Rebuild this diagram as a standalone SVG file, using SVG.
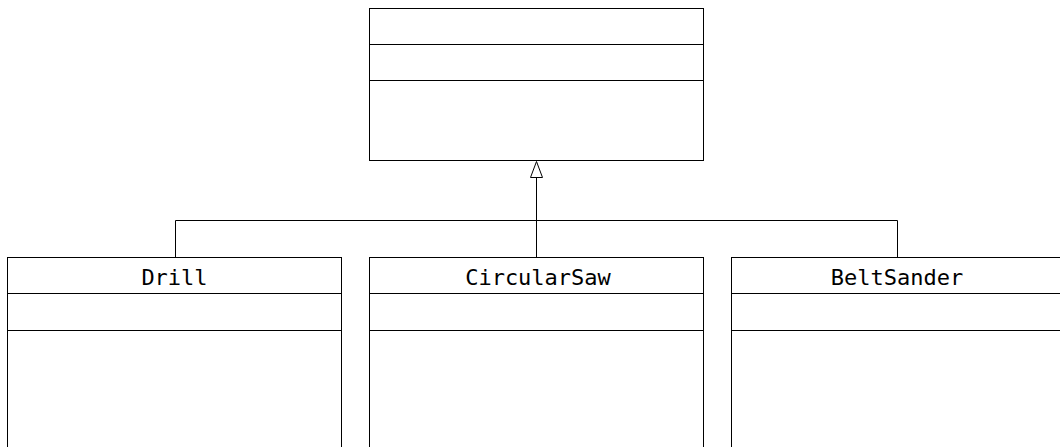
<svg xmlns="http://www.w3.org/2000/svg" width="1060" height="447" viewBox="0 0 1060 447">
<style>
.box{fill:#fff;stroke:#000;stroke-width:1}
.div{stroke:#000;stroke-width:1}
.conn{fill:none;stroke:#000;stroke-width:1}
.lbl{font-family:"DejaVu Sans Mono",monospace;font-size:22px;fill:#000;text-anchor:middle}
</style>
<rect width="1060" height="447" fill="#fff"/>
<g id="connectors">
<polyline class="conn" points="175.5,257.5 175.5,220.5 897.5,220.5 897.5,257.5"/>
<line class="conn" x1="536.5" y1="257.5" x2="536.5" y2="177"/>
<polygon points="536.5,161.5 530.5,177.5 542.5,177.5" fill="#fff" stroke="#000" stroke-width="1"/>
</g>
<g id="base">
<rect class="box" x="369.5" y="8.5" width="334" height="152"/>
<line class="div" x1="369.5" y1="44.5" x2="703.5" y2="44.5"/>
<line class="div" x1="369.5" y1="80.5" x2="703.5" y2="80.5"/>
</g>
<g id="drill">
<rect class="box" x="7.5" y="257.5" width="334" height="200"/>
<line class="div" x1="7.5" y1="293.5" x2="341.5" y2="293.5"/>
<line class="div" x1="7.5" y1="330.5" x2="341.5" y2="330.5"/>
<text class="lbl" x="174.5" y="285">Drill</text>
</g>
<g id="circularsaw">
<rect class="box" x="369.5" y="257.5" width="334" height="200"/>
<line class="div" x1="369.5" y1="293.5" x2="703.5" y2="293.5"/>
<line class="div" x1="369.5" y1="330.5" x2="703.5" y2="330.5"/>
<text class="lbl" x="538" y="285">CircularSaw</text>
</g>
<g id="beltsander">
<rect class="box" x="731.5" y="257.5" width="334" height="200"/>
<line class="div" x1="731.5" y1="293.5" x2="1065.5" y2="293.5"/>
<line class="div" x1="731.5" y1="330.5" x2="1065.5" y2="330.5"/>
<text class="lbl" x="897" y="285">BeltSander</text>
</g>
</svg>
